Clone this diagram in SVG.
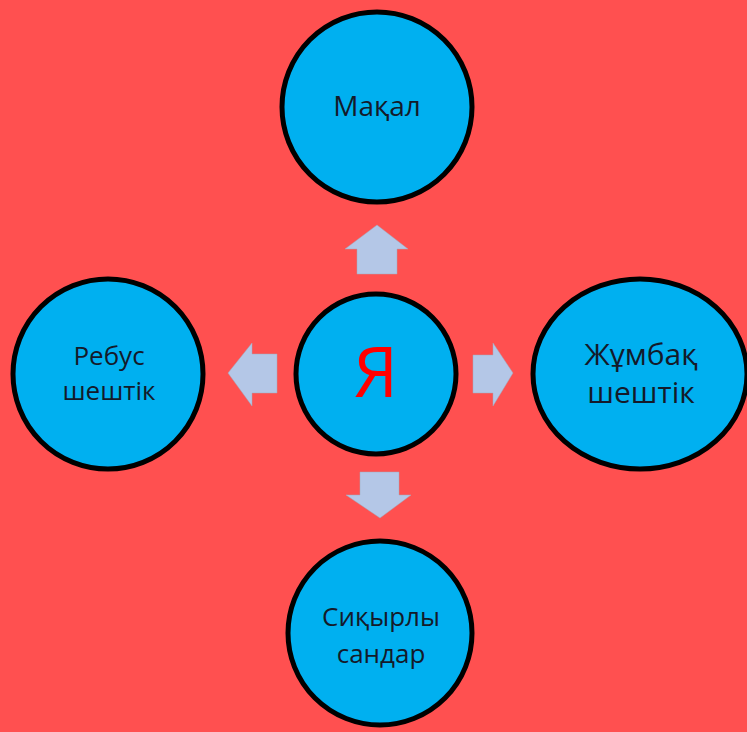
<svg xmlns="http://www.w3.org/2000/svg" width="747" height="732" viewBox="0 0 747 732">
<style>
.node{fill:#00B0F0;stroke:#000;stroke-width:5}
.arrow{fill:#B4C7E7;stroke:#A0A8B8;stroke-width:0.5}
.lbl{font-family:"Open Sans","Noto Sans",sans-serif;fill:#141a2a;text-anchor:middle}
</style>
<rect width="747" height="732" fill="#FF5050"/>
<g id="connectors">
<polygon class="arrow" points="377,225 408,249 397,249 397,274 357,274 357,249 345,249"/>
<polygon class="arrow" points="228,373 252,343 252,354 277,354 277,393 252,393 252,406"/>
<polygon class="arrow" points="513,373 493,343 493,355 473,355 473,393 493,393 493,406"/>
<polygon class="arrow" points="380,518 411,495 399,495 399,472 360,472 360,495 346,495"/>
</g>
<g id="node-center">
<circle class="node" cx="376" cy="374" r="80"/>
<text x="376" y="397" font-family="'Open Sans','Noto Sans',sans-serif" font-size="70" fill="#FF0000" text-anchor="middle">Я</text>
</g>
<g id="node-top">
<circle class="node" cx="377" cy="107" r="95"/>
<text class="lbl" x="377" y="116" font-size="28">Мақал</text>
</g>
<g id="node-left">
<circle class="node" cx="108" cy="374" r="95"/>
<text class="lbl" x="109" y="365" font-size="26">Ребус</text>
<text class="lbl" x="109" y="400" font-size="26">шештік</text>
</g>
<g id="node-right">
<ellipse class="node" cx="640" cy="374" rx="107" ry="95"/>
<text class="lbl" x="641" y="365" font-size="30">Жұмбақ</text>
<text class="lbl" x="641" y="403" font-size="30">шештік</text>
</g>
<g id="node-bottom">
<circle class="node" cx="380" cy="633" r="92"/>
<text class="lbl" x="381" y="626" font-size="26">Сиқырлы</text>
<text class="lbl" x="381" y="663" font-size="26">сандар</text>
</g>
</svg>
